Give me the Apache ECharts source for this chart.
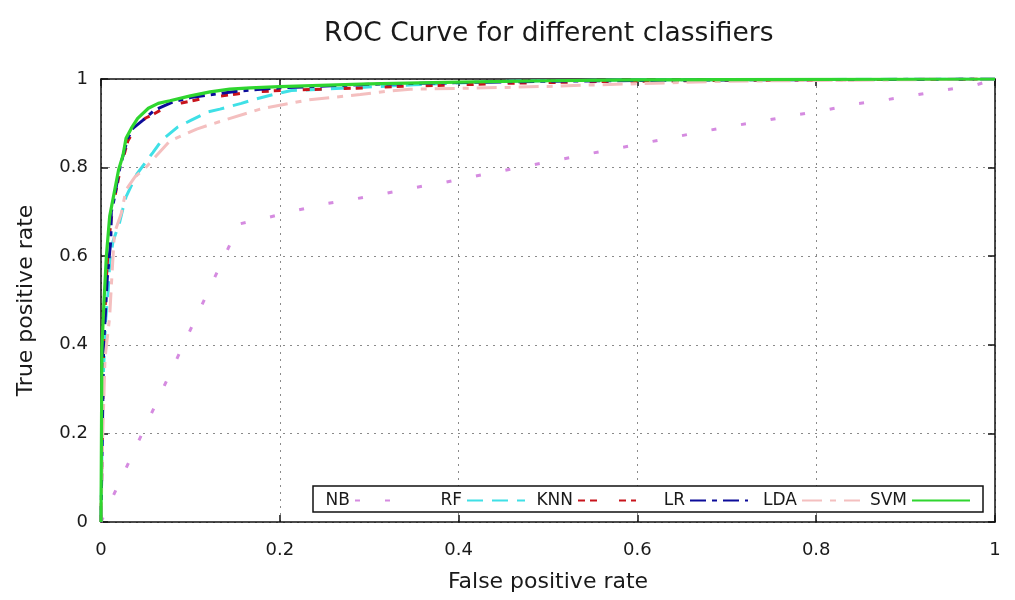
<!DOCTYPE html>
<html>
<head>
<meta charset="utf-8">
<script src="https://cdn.jsdelivr.net/npm/echarts@6/dist/echarts.min.js"></script>
<style>
html,body{margin:0;padding:0;background:#fff;}
#chart{width:1015px;height:600px;}
</style>
</head>
<body>
<div id="chart"></div>
<script>
// ---- data ----
const titleText = "ROC Curve for different classifiers";
const xAxisName = "False positive rate";
const yAxisName = "True positive rate";
const tickValues = [0, 0.2, 0.4, 0.6, 0.8, 1];
const tickLabels = ["0", "0.2", "0.4", "0.6", "0.8", "1"];
const seriesNames = ["NB", "RF", "KNN", "LR", "LDA", "SVM"];

const nbPoints = [[0,0],[0.155,0.673],[0.188,0.688],[0.22,0.704],[0.253,0.719],[0.286,0.73],[0.319,0.742],[0.351,0.755],[0.385,0.767],[0.417,0.78],[0.45,0.793],[0.483,0.806],[0.516,0.819],[0.548,0.832],[0.582,0.845],[0.614,0.858],[0.677,0.883],[0.713,0.896],[0.745,0.907],[0.778,0.919],[0.811,0.93],[0.845,0.944],[0.878,0.953],[0.912,0.964],[0.944,0.975],[0.978,0.986],[1,1]];
const rfPoints = [[0,0],[0.002,0.3],[0.005,0.45],[0.008,0.52],[0.0097,0.584],[0.0134,0.633],[0.021,0.678],[0.0246,0.708],[0.028,0.734],[0.04,0.785],[0.058,0.834],[0.068,0.862],[0.086,0.892],[0.101,0.907],[0.12,0.926],[0.133,0.932],[0.157,0.945],[0.172,0.954],[0.195,0.966],[0.213,0.974],[0.25,0.977],[0.29,0.981],[0.35,0.987],[0.45,0.995],[0.6,0.998],[1,1]];
const knnPoints = [[0,0],[0.003,0.4],[0.006,0.55],[0.008,0.614],[0.011,0.678],[0.015,0.73],[0.022,0.8],[0.03,0.86],[0.04,0.895],[0.05,0.912],[0.06,0.922],[0.073,0.937],[0.09,0.946],[0.105,0.952],[0.118,0.958],[0.152,0.966],[0.165,0.97],[0.2,0.974],[0.247,0.977],[0.295,0.98],[0.341,0.984],[0.388,0.986],[0.45,0.99],[0.55,0.994],[0.7,0.997],[1,1]];
const lrPoints = [[0,0],[0.003,0.4],[0.007,0.55],[0.011,0.637],[0.0115,0.7],[0.0145,0.727],[0.02,0.79],[0.025,0.83],[0.03,0.866],[0.036,0.889],[0.047,0.907],[0.06,0.93],[0.08,0.948],[0.1,0.958],[0.15,0.972],[0.2,0.98],[0.3,0.988],[0.4,0.992],[0.5,0.995],[0.7,0.998],[1,1]];
const ldaPoints = [[0,0],[0.002,0.2],[0.0045,0.37],[0.0097,0.463],[0.0115,0.531],[0.015,0.652],[0.0227,0.697],[0.028,0.75],[0.038,0.779],[0.049,0.798],[0.077,0.86],[0.107,0.887],[0.122,0.897],[0.178,0.932],[0.211,0.945],[0.233,0.953],[0.29,0.965],[0.323,0.973],[0.346,0.977],[0.405,0.979],[0.454,0.981],[0.513,0.984],[0.54,0.986],[0.7,0.995],[1,1]];
const svmPoints = [[0,0],[0.001,0.39],[0.0034,0.5],[0.006,0.6],[0.0097,0.69],[0.0197,0.795],[0.0246,0.828],[0.028,0.866],[0.034,0.889],[0.041,0.911],[0.053,0.934],[0.064,0.945],[0.077,0.951],[0.1,0.962],[0.122,0.971],[0.144,0.977],[0.167,0.98],[0.2,0.983],[0.3,0.989],[0.4,0.993],[0.5,0.996],[0.6,0.998],[0.8,0.999],[1,1]];

// ---- styles ----
const FONT = "DejaVu Sans";
const seriesData = [nbPoints, rfPoints, knnPoints, lrPoints, ldaPoints, svmPoints];
const seriesColors = ["#d58be0", "#3fe0e6", "#c8141c", "#0c0c9a", "#f4bfbf", "#2fd62f"];
const seriesDash = [[5,25], [16,9], [7,5,7,22], [16,6,5,6], [20,8,6,8], "solid"];
const seriesWidth = [3, 3, 3, 3, 3, 3.2];
const legendRight = [601, 489, 378, 266, 154, 44];

const chart = echarts.init(document.getElementById('chart'), null, {renderer: 'canvas'});

function valueAxis(extra) {
  return Object.assign({
    type: 'value', min: 0, max: 1, interval: 0.2,
    axisLine: {show: true, onZero: false, lineStyle: {color: '#111', width: 1.5}},
    axisTick: {show: true, inside: true, length: 7, lineStyle: {color: '#111', width: 1.5}},
    axisLabel: {show: false},
    splitLine: {show: false}
  }, extra);
}

const labelFormatter = v => {
  const i = tickValues.findIndex(t => Math.abs(t - v) < 1e-9);
  return i >= 0 ? tickLabels[i] : '';
};

const option = {
  backgroundColor: '#fff',
  animation: false,
  title: {
    text: titleText, left: 319, top: 16,
    textStyle: {fontFamily: FONT, fontSize: 26.5, fontWeight: 'normal', color: '#1a1a1a'}
  },
  grid: {left: 101, right: 20, top: 79, bottom: 78},
  xAxis: [
    valueAxis({
      position: 'bottom',
      name: xAxisName, nameLocation: 'middle', nameGap: 49,
      nameTextStyle: {fontFamily: FONT, fontSize: 22, color: '#1a1a1a'},
      axisLabel: {show: true, margin: 19, fontFamily: FONT, fontSize: 18, color: '#1a1a1a', formatter: labelFormatter},
      splitLine: {show: true, lineStyle: {color: '#8a8a8a', width: 1, type: [2, 5]}}
    }),
    valueAxis({position: 'top'})
  ],
  yAxis: [
    valueAxis({
      position: 'left',
      name: yAxisName, nameLocation: 'middle', nameGap: 64,
      nameTextStyle: {fontFamily: FONT, fontSize: 22, color: '#1a1a1a'},
      axisLabel: {show: true, margin: 13, fontFamily: FONT, fontSize: 18, color: '#1a1a1a', formatter: labelFormatter},
      splitLine: {show: true, lineStyle: {color: '#8a8a8a', width: 1, type: [2, 5]}}
    }),
    valueAxis({position: 'right'})
  ],
  graphic: [{
    type: 'rect', z: 5,
    shape: {x: 313, y: 486, width: 670, height: 26},
    style: {fill: '#fff', stroke: '#111', lineWidth: 1.5}
  }],
  legend: seriesNames.map((name, i) => ({
    show: true,
    data: [name], right: legendRight[i], top: 492, padding: 0,
    align: 'right', itemWidth: 58, itemHeight: 14, z: 10,
    itemStyle: {opacity: 0},
    textStyle: {fontFamily: FONT, fontSize: 17, color: '#1a1a1a'}
  })),
  series: seriesNames.map((name, i) => ({
    name: name, type: 'line', data: seriesData[i],
    symbol: 'none', showSymbol: false, smooth: false,
    color: seriesColors[i],
    lineStyle: {color: seriesColors[i], width: seriesWidth[i], type: seriesDash[i]},
    z: 2 + i
  }))
};
chart.setOption(option);
</script>
</body>
</html>
